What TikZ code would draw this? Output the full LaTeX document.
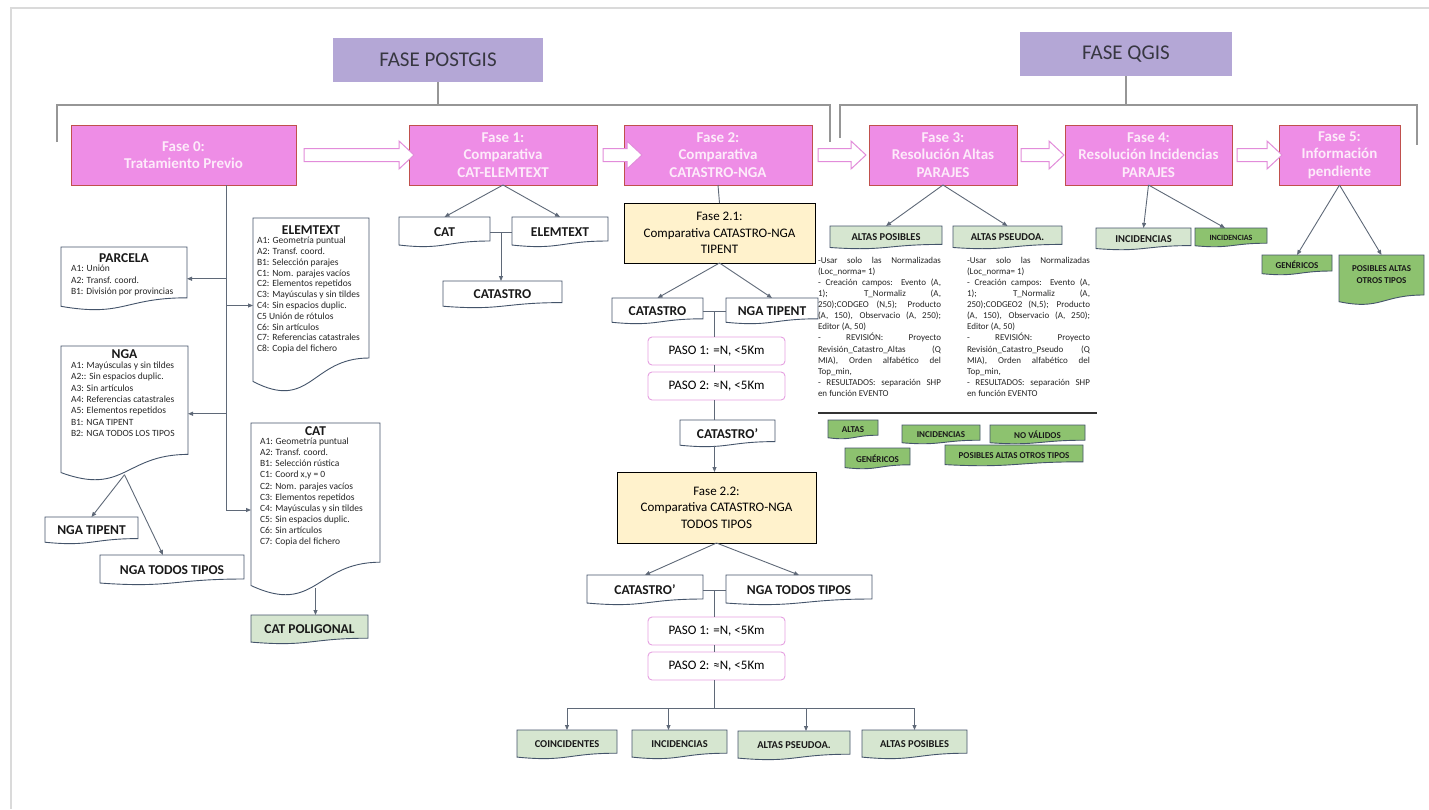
\documentclass[tikz,border=0pt]{standalone}
\usepackage{fontspec}
\setmainfont{Carlito}
\usetikzlibrary{calc,arrows.meta}
\pgfdeclarelayer{background}
\pgfsetlayers{background,main}

\definecolor{lav}{RGB}{180,167,214}
\definecolor{pinkfill}{RGB}{238,141,230}
\definecolor{pinkline}{RGB}{192,80,77}
\definecolor{arrowline}{RGB}{226,140,218}
\definecolor{docline}{RGB}{68,84,106}
\definecolor{lgreen}{RGB}{214,230,208}
\definecolor{dgreen}{RGB}{141,194,111}
\definecolor{yel}{RGB}{255,242,204}
\definecolor{pasoline}{RGB}{230,160,225}
\definecolor{conncol}{RGB}{95,105,120}
\definecolor{brkcol}{RGB}{150,150,150}
\definecolor{framecol}{RGB}{218,218,218}
\definecolor{phasetext}{RGB}{253,235,250}
\definecolor{ttltext}{RGB}{55,55,65}

\tikzset{
  box/.style={inner sep=0pt, outer sep=0pt},
  phase/.style={box, draw=pinkline, fill=pinkfill, line width=1pt, text=phasetext,
    font=\bfseries\fontsize{15}{17.5}\selectfont, align=center},
  ttl/.style={box, fill=lav, text=ttltext, font=\fontsize{21}{23}\selectfont},
  yelbox/.style={box, draw=black, fill=yel, line width=0.9pt, align=center,
    font=\fontsize{13}{16.5}\selectfont},
  paso/.style={box, draw=pasoline, fill=white, rounded corners=4pt, line width=0.9pt,
    font=\fontsize{13}{14}\selectfont},
  docw/.style={draw=docline, fill=white, line width=0.9pt},
  docl/.style={draw=docline, fill=lgreen, line width=0.9pt},
  docd/.style={draw=docline, fill=dgreen, line width=0.9pt},
  lbl/.style={box, font=\bfseries\fontsize{13.5}{15}\selectfont, text=black!90},
  glbl/.style={box, font=\bfseries\fontsize{10.5}{12}\selectfont, text=black!90},
  slbl/.style={box, font=\bfseries\fontsize{10.5}{12}\selectfont, text=black!90},
  tlbl/.style={box, font=\bfseries\fontsize{9}{12}\selectfont, text=black!90, align=center},
  dtitle/.style={box, font=\bfseries\fontsize{13.5}{15}\selectfont, text=black!90},
  dlist/.style={box, align=left, anchor=north west, text=black!85},
  blk/.style={box, align=left, anchor=north west, text=black!85,
    font=\fontsize{9}{11.1}\selectfont},
  conn/.style={draw=conncol, line width=0.9pt},
  arr/.style={conn, -{Triangle[length=5pt,width=4pt]}},
  brk/.style={draw=brkcol, line width=1.1pt},
  blockarr/.style={draw=arrowline, fill=white, line width=1pt},
}

% #1 options, #2 name, #3 x1, #4 y1, #5 x2, #6 y2, #7 text
\newcommand\mybox[7][]{%
  \node[#1, minimum width={#5-#3}, minimum height={#6-#4}] (#2) at ({(#3+#5)/2},{(#4+#6)/2}) {#7};}

% #1 shape style, #2 name, #3 x1, #4 y1, #5 x2, #6 y2, #7 label style, #8 label
\newcommand\mydoc[8]{%
  \node[box, minimum width={#5-#3}, minimum height={#6-#4}] (#2) at ({(#3+#5)/2},{(#4+#6)/2}) {};
  \begin{pgfonlayer}{background}
  \path[#1] (#2.north west) -- (#2.north east) -- ($(#2.north east)!0.8!(#2.south east)$)
    .. controls ($(#2.north)!0.8!(#2.south)$) and ($(#2.north)!1.107!(#2.south)$) ..
    ($(#2.north west)!0.934!(#2.south west)$) -- cycle;
  \end{pgfonlayer}
  \node[#7] (#2-t) at ($(#2.north)!0.5!(#2.south)$) {#8};}

% block arrow: #1 name, #2 start, #3 tip
\newcommand\blockarr[3]{%
  \coordinate (#1-s) at #2; \coordinate (#1-e) at #3;
  \draw[blockarr] ($(#1-s)+(0,-6.5)$) -- ($(#1-e)+(-15,-6.5)$) -- ($(#1-e)+(-15,-14)$) -- (#1-e)
    -- ($(#1-e)+(-15,14)$) -- ($(#1-e)+(-15,6.5)$) -- ($(#1-s)+(0,6.5)$) -- cycle;}

\newcommand\jlin[1]{\makebox[123pt][s]{#1}}
\newcommand\llin[1]{\makebox[123pt][l]{#1}}

\begin{document}
\begin{tikzpicture}[x=1pt,y=-1pt]
\begin{pgfonlayer}{background}
\fill[white] (0,0) rectangle (1429,809);
\end{pgfonlayer}
\useasboundingbox (0,0) rectangle (1429,809);
\draw[framecol, line width=1.5pt] (10,8) -- (1429,8);
\draw[framecol, line width=1.5pt] (11,8) -- (11,809);

% ---------- titles and brackets
\mybox[ttl]{pg}{333}{38}{543}{82}{FASE POSTGIS}
\mybox[ttl]{qg}{1020}{32}{1232}{76}{FASE QGIS}
\coordinate (bp) at (0,105);
\draw[brk] (57,142) -- (57,105) -- (830,105) -- (830,142);
\draw[brk] (pg.south) -- (pg.south |- bp);
\draw[brk] (840,138) -- (840,105) -- (1417,105) -- (1417,145);
\draw[brk] (qg.south) -- (qg.south |- bp);

% ---------- phases
\mybox[phase]{f0}{71}{125}{296}{185}{Fase 0:\\Tratamiento Previo}
\mybox[phase]{f1}{409}{125}{597}{185}{Fase 1:\\Comparativa\\CAT-ELEMTEXT}
\mybox[phase]{f2}{624}{125}{812}{185}{Fase 2:\\Comparativa\\CATASTRO-NGA}
\mybox[phase]{f3}{869}{125}{1017}{185}{Fase 3:\\Resolución Altas\\PARAJES}
\mybox[phase]{f4}{1065}{125}{1232}{185}{Fase 4:\\Resolución Incidencias\\PARAJES}
\mybox[phase]{f5}{1279}{125}{1400}{185}{Fase 5:\\Información\\pendiente}

\blockarr{a01}{($(f0.east)+(8,0)$)}{($(f1.west)+(5,0)$)}
\blockarr{a12}{($(f1.east)+(6,0)$)}{($(f2.west)+(18,0)$)}
\blockarr{a23}{($(f2.east)+(6,0)$)}{($(f3.west)+(-3,0)$)}
\blockarr{a34}{($(f3.east)+(4,0)$)}{($(f4.west)+(-1,0)$)}
\blockarr{a45}{($(f4.east)+(5,0)$)}{($(f5.west)+(3,0)$)}

% ---------- Fase 0 documents
\mydoc{docw}{parc}{61}{247}{187}{310.5}{box}{}
\node[dtitle] (parc-h) at (124,258) {PARCELA};
\node[dlist, font=\fontsize{9.5}{11.5}\selectfont] (parc-l) at (71,265)
  {A1: Unión\\A2: Transf. coord.\\B1: División por provincias};

\mydoc{docw}{elem}{253}{218}{369}{393}{box}{}
\node[dtitle] (elem-h) at (311,230) {ELEMTEXT};
\node[dlist, font=\fontsize{9.5}{10.8}\selectfont] (elem-l) at (257,237)
  {A1: Geometría puntual\\A2: Transf. coord.\\B1: Selección parajes\\C1: Nom. parajes vacíos\\
   C2: Elementos repetidos\\C3: Mayúsculas y sin tildes\\C4: Sin espacios duplic.\\C5 Unión de rótulos\\
   C6: Sin artículos\\C7: Referencias catastrales\\C8: Copia del fichero};

\mydoc{docw}{nga}{61}{346}{188}{481.5}{box}{}
\node[dtitle] (nga-h) at (124.5,354) {NGA};
\node[dlist, font=\fontsize{9.5}{11.3}\selectfont] (nga-l) at (71,362)
  {A1: Mayúsculas y sin tildes\\A2:: Sin espacios duplic.\\A3: Sin artículos\\A4: Referencias catastrales\\
   A5: Elementos repetidos\\B1: NGA TIPENT\\B2: NGA TODOS LOS TIPOS};

\mydoc{docw}{cat}{251}{423}{380}{597}{box}{}
\node[dtitle] (cat-h) at (315.5,431) {CAT};
\node[dlist, font=\fontsize{9.5}{11.1}\selectfont] (cat-l) at (260,438)
  {A1: Geometría puntual\\A2: Transf. coord.\\B1: Selección rústica\\C1: Coord x,y = 0\\
   C2: Nom. parajes vacíos\\C3: Elementos repetidos\\C4: Mayúsculas y sin tildes\\
   C5: Sin espacios duplic.\\C6: Sin artículos\\C7: Copia del fichero};

\mydoc{docw}{ngat}{45}{517}{138}{544}{lbl}{NGA TIPENT}
\mydoc{docw}{ngatt}{100}{555}{244}{585}{lbl}{NGA TODOS TIPOS}
\mydoc{docl}{catp}{251}{615}{368}{644}{lbl}{CAT POLIGONAL}

\coordinate (x226) at (226,0);
\draw[arr] (f0.south -| x226) |- (cat.west);
\draw[arr] (x226 |- parc.east) -- (parc.east);
\draw[arr] (x226 |- elem.west) -- (elem.west);
\draw[arr] (x226 |- nga.east) -- (nga.east);
\coordinate (ngab) at ($(nga.north)!0.95!(nga.south)$);
\draw[arr] (ngab) -- (ngat.north);
\draw[arr] (ngab) -- ($(ngatt.north)+(-9,0)$);
\coordinate (catb) at ($(cat.north)!0.95!(cat.south)$);
\draw[arr] (catb) -- (catb |- catp.north);

% ---------- Fase 1
\mydoc{docw}{c1}{399}{217}{490}{247}{lbl}{CAT}
\mydoc{docw}{e1}{512}{217}{608}{247}{lbl}{ELEMTEXT}
\mydoc{docw}{ct1}{443}{281}{562}{308}{lbl}{CATASTRO}
\draw[arr] (f1.south) -- (c1.north);
\draw[arr] (f1.south) -- (e1.north);
\draw[conn] (c1.east) -- (e1.west);
\coordinate (j1) at ($(c1.east)!0.5!(e1.west)$);
\draw[arr] (j1) -- (j1 |- ct1.north);

% ---------- Fase 2
\mybox[yelbox]{f21}{624}{203}{815}{263}{Fase 2.1:\\Comparativa CATASTRO-NGA\\TIPENT}
\mydoc{docw}{c2}{612}{298}{703}{324}{lbl}{CATASTRO}
\mydoc{docw}{n2}{726}{298}{818}{324}{lbl}{NGA TIPENT}
\mybox[paso]{p1}{648}{337}{785}{365}{PASO 1: =N, <5Km}
\mybox[paso]{p2}{648}{372}{785}{400}{PASO 2: ≈N, <5Km}
\mydoc{docw}{cp}{680}{420}{775}{447}{lbl}{CATASTRO’}
\mybox[yelbox]{f22}{617}{472}{816}{543}{Fase 2.2:\\Comparativa CATASTRO-NGA\\TODOS TIPOS}
\mydoc{docw}{c3}{587}{575}{703}{605}{lbl}{CATASTRO’}
\mydoc{docw}{n3}{726}{575}{872}{605}{lbl}{NGA TODOS TIPOS}
\mybox[paso]{p3}{648}{617}{785}{645}{PASO 1: =N, <5Km}
\mybox[paso]{p4}{648}{652}{785}{680}{PASO 2: ≈N, <5Km}
\mydoc{docl}{co}{517}{730}{617}{759}{glbl}{COINCIDENTES}
\mydoc{docl}{inc}{632}{730}{727}{759}{glbl}{INCIDENCIAS}
\mydoc{docl}{aps}{738}{731}{850}{760}{glbl}{ALTAS PSEUDOA.}
\mydoc{docl}{apo}{862}{730}{967}{759}{glbl}{ALTAS POSIBLES}

\draw[conn] (f2.south) -- (f21.north);
\draw[arr] (f21.south) -- (c2.north);
\draw[arr] (f21.south) -- (n2.north);
\draw[conn] (c2.east) -- (n2.west);
\coordinate (j2) at ($(c2.east)!0.5!(n2.west)$);
\draw[conn] (j2) -- (j2 |- p1.north);
\draw[conn] (p1.south -| j2) -- (p2.north -| j2);
\draw[conn] (p2.south -| j2) -- (j2 |- cp.north);
\coordinate (cpb) at ($(cp.north)!0.95!(cp.south)$);
\draw[arr] (j2 |- cpb) -- (j2 |- f22.north);
\draw[arr] (f22.south) -- (c3.north);
\draw[arr] (f22.south) -- (n3.north);
\draw[conn] (c3.east) -- (n3.west);
\coordinate (j3) at ($(c3.east)!0.5!(n3.west)$);
\draw[conn] (j3) -- (j3 |- p3.north);
\draw[conn] (p3.south -| j3) -- (p4.north -| j3);
\coordinate (bus) at (0,708);
\draw[conn] (p4.south -| j3) -- (j3 |- bus);
\draw[conn] (co.north |- bus) -- (apo.north |- bus);
\draw[arr] (co.north |- bus) -- (co.north);
\draw[arr] ($(inc.north |- bus)+(-11,0)$) -- ($(inc.north)+(-11,0)$);
\draw[arr] ($(aps.north |- bus)+(12,0)$) -- ($(aps.north)+(12,0)$);
\draw[arr] (apo.north |- bus) -- (apo.north);

% ---------- Fase 3
\mydoc{docl}{apos}{830}{226}{942}{249}{slbl}{ALTAS POSIBLES}
\mydoc{docl}{apse}{953}{226}{1062}{249}{slbl}{ALTAS PSEUDOA.}
\draw[arr] (f3.south) -- (apos.north);
\draw[arr] (f3.south) -- (apse.north);

\node[blk] (t3a) at (818,257) {%
  \jlin{-Usar solo las Normalizadas}\\
  \llin{(Loc\_norma= 1)}\\
  \jlin{- Creación campos: Evento (A,}\\
  \jlin{1); T\_Normaliz (A,}\\
  \jlin{250);CODGEO (N,5); Producto}\\
  \jlin{(A, 150), Observacio (A, 250);}\\
  \llin{Editor (A, 50)}\\
  \jlin{- REVISIÓN: Proyecto}\\
  \jlin{Revisión\_Catastro\_Altas (Q}\\
  \jlin{MIA), Orden alfabético del}\\
  \llin{Top\_min,}\\
  \jlin{- RESULTADOS: separación SHP}\\
  \llin{en función EVENTO}};
\node[blk] (t3b) at (967,257) {%
  \jlin{-Usar solo las Normalizadas}\\
  \llin{(Loc\_norma= 1)}\\
  \jlin{- Creación campos: Evento (A,}\\
  \jlin{1); T\_Normaliz (A,}\\
  \jlin{250);CODGEO2 (N,5); Producto}\\
  \jlin{(A, 150), Observacio (A, 250);}\\
  \llin{Editor (A, 50)}\\
  \jlin{- REVISIÓN: Proyecto}\\
  \jlin{Revisión\_Catastro\_Pseudo (Q}\\
  \jlin{MIA), Orden alfabético del}\\
  \llin{Top\_min,}\\
  \jlin{- RESULTADOS: separación SHP}\\
  \llin{en función EVENTO}};
\draw[line width=1.3pt, black!80] (818,413) -- (1097,413);

\mydoc{docd}{alt}{828}{420}{878}{439}{tlbl}{ALTAS}
\mydoc{docd}{inc3}{902}{425}{980}{444}{tlbl}{INCIDENCIAS}
\mydoc{docd}{nov}{990}{425}{1085}{444}{tlbl}{NO VÁLIDOS}
\mydoc{docd}{gen3}{845}{448}{910}{469}{tlbl}{GENÉRICOS}
\mydoc{docd}{pat3}{945}{445}{1083}{466}{tlbl}{POSIBLES ALTAS OTROS TIPOS}

% ---------- Fase 4
\mydoc{docl}{inc4}{1096}{228}{1191}{250}{slbl}{INCIDENCIAS}
\mydoc{docd}{inc4d}{1195}{228}{1267}{247}{tlbl, font=\bfseries\fontsize{8}{10}\selectfont}{INCIDENCIAS}
\draw[arr] (f4.south) -- (inc4.north);
\draw[arr] (f4.south) -- ($(inc4d.north)+(-6,0)$);

% ---------- Fase 5
\mydoc{docd}{gen5}{1262}{255}{1332}{275}{tlbl}{GENÉRICOS}
\mydoc{docd}{pat5}{1339}{255}{1424}{305}{box}{}
\node[tlbl] (pat5-l) at ($(pat5.north)!0.4!(pat5.south)$) {POSIBLES ALTAS\\OTROS TIPOS};
\draw[arr] (f5.south) -- (gen5.north);
\draw[arr] (f5.south) -- (pat5.north);
\end{tikzpicture}
\end{document}
